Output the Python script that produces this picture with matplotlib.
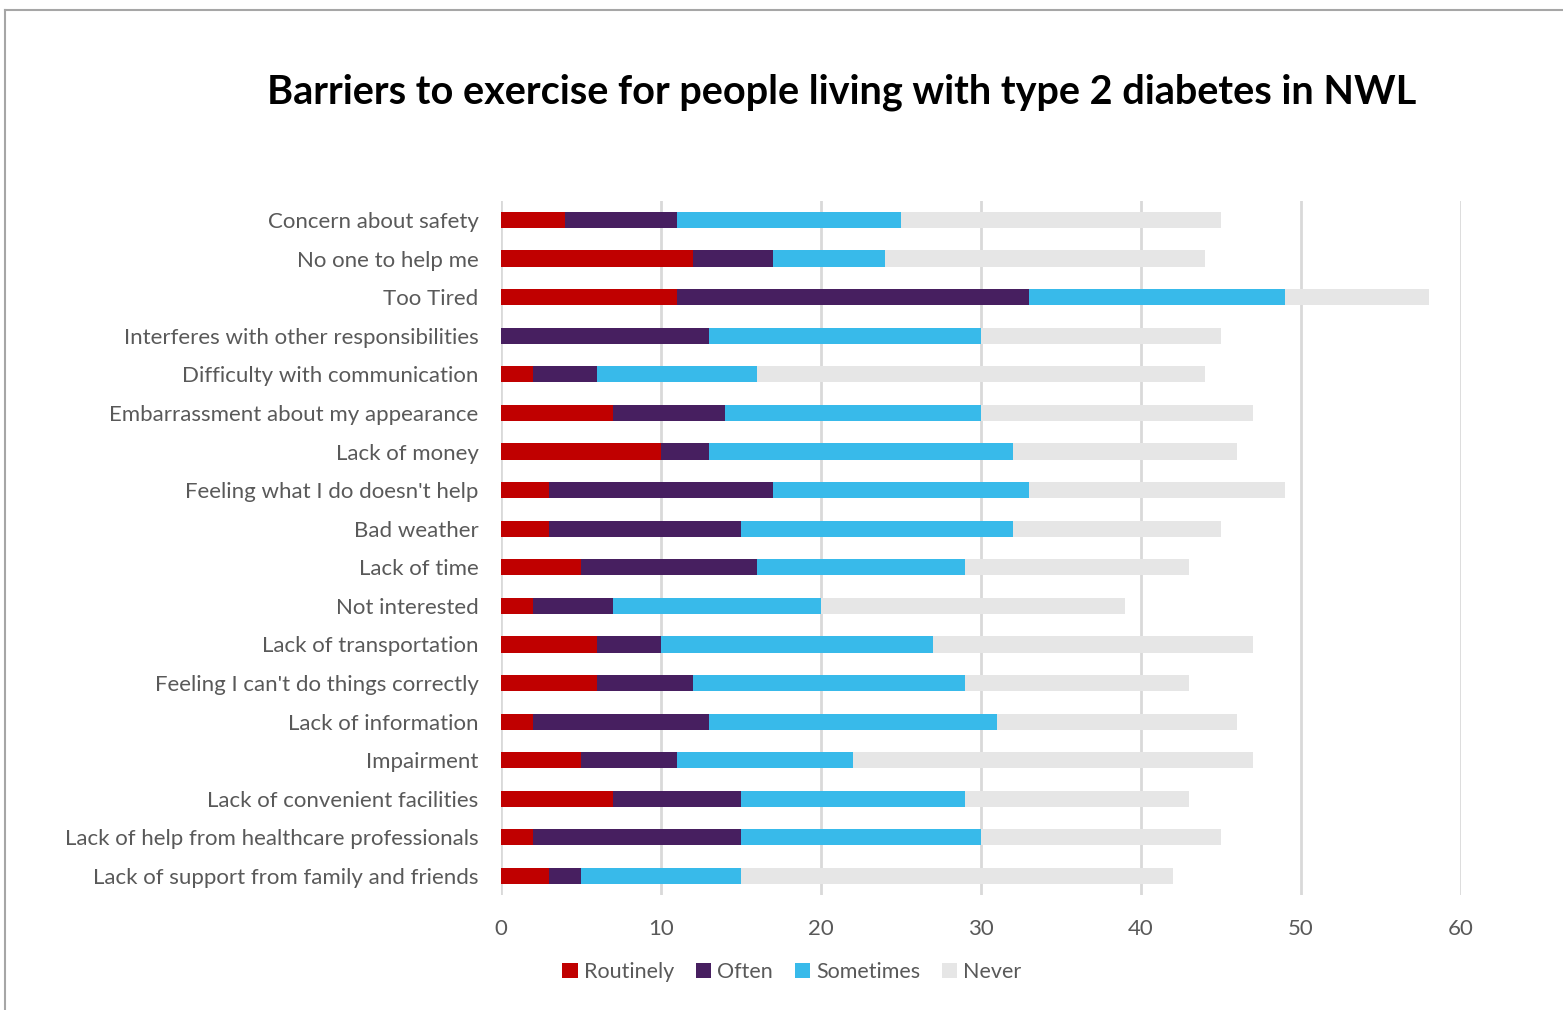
import numpy as np
import matplotlib
matplotlib.use("Agg")
import matplotlib.pyplot as plt
from matplotlib.lines import Line2D

# Data (top to bottom as shown)
barriers = [
    "Concern about safety",
    "No one to help me",
    "Too Tired",
    "Interferes with other responsibilities",
    "Difficulty with communication",
    "Embarrassment about my appearance",
    "Lack of money",
    "Feeling what I do doesn't help",
    "Bad weather",
    "Lack of time",
    "Not interested",
    "Lack of transportation",
    "Feeling I can't do things correctly",
    "Lack of information",
    "Impairment",
    "Lack of convenient facilities",
    "Lack of help from healthcare professionals",
    "Lack of support from family and friends",
]
routinely = [4, 12, 11, 0, 2, 7, 10, 3, 3, 5, 2, 6, 6, 2, 5, 7, 2, 3]
often = [7, 5, 22, 13, 4, 7, 3, 14, 12, 11, 5, 4, 6, 11, 6, 8, 13, 2]
sometimes = [14, 7, 16, 17, 10, 16, 19, 16, 17, 13, 13, 17, 17, 18, 11, 14, 15, 10]
never = [20, 20, 9, 15, 28, 17, 14, 16, 13, 14, 19, 20, 14, 15, 25, 14, 15, 27]

series = ["Routinely", "Often", "Sometimes", "Never"]
colors = ["#C00000", "#471F60", "#38BAEA", "#E6E6E6"]

plt.rcParams['font.family'] = ['Lato', 'DejaVu Sans']

fig = plt.figure(figsize=(15.63, 10.10), dpi=100)
ax = fig.add_axes([0.3205, 0.1136, 0.6142, 0.6877])

y = np.arange(len(barriers))
left = np.zeros(len(barriers))
for name, vals, col in zip(series, [routinely, often, sometimes, never], colors):
    ax.barh(y, vals, left=left, height=0.42, color=col, label=name, zorder=3)
    left += np.array(vals)

ax.set_ylim(len(barriers) - 0.5, -0.5)
ax.set_xlim(0, 60)
ax.set_xticks(range(0, 61, 10))
ax.set_yticks(y)
ax.set_yticklabels(barriers)
ax.grid(axis="x", color="#D9D9D9", linewidth=2, zorder=0)
for s in ax.spines.values():
    s.set_visible(False)
ax.tick_params(axis="both", length=0, labelsize=16, colors="#595959")
ax.tick_params(axis="x", pad=17)
ax.tick_params(axis="y", pad=16)

fig.text(842 / 1563, 1 - 92 / 1010, "Barriers to exercise for people living with type 2 diabetes in NWL",
         ha="center", va="center", fontsize=28.5, fontweight="bold", color="black")

fig.legend(loc="center", bbox_to_anchor=(792 / 1563, 1 - 972 / 1010), ncol=4, frameon=False,
           fontsize=15.5, handlelength=0.7, handleheight=0.7, handletextpad=0.3, columnspacing=1.0,
           labelcolor="#595959")

# outer frame
fig.add_artist(Line2D([5 / 1563, 5 / 1563], [0, 1 - 10 / 1010], transform=fig.transFigure, color="#A6A6A6", lw=1.5))
fig.add_artist(Line2D([5 / 1563, 1], [1 - 10 / 1010, 1 - 10 / 1010], transform=fig.transFigure, color="#A6A6A6", lw=1.5))

fig.savefig("out.png", dpi=100, facecolor="white")
